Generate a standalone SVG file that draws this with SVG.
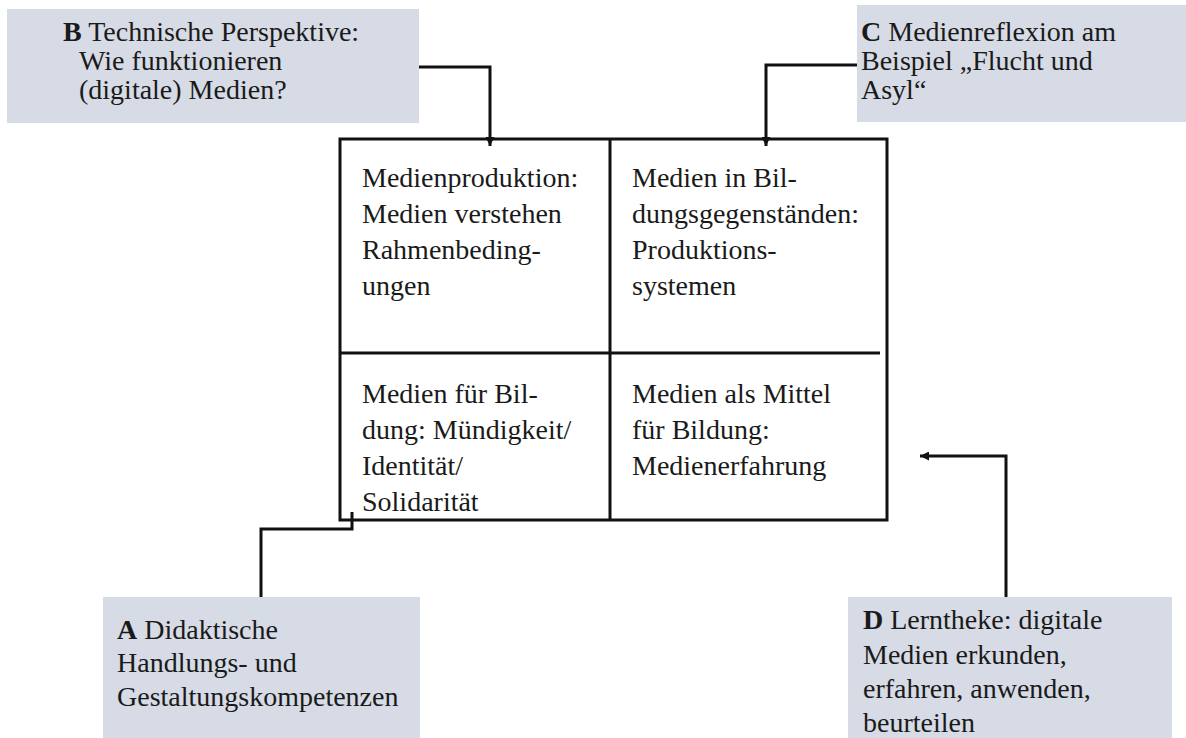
<svg xmlns="http://www.w3.org/2000/svg" width="1186" height="738" viewBox="0 0 1186 738">
<defs>
<style>
.t{font-family:"Liberation Serif","Times New Roman",serif;font-size:28px;fill:#1a1a1a}
.b{font-weight:bold}
.box{fill:#d6dbe5}
.ln{fill:none;stroke:#111;stroke-width:3}
.grid{fill:none;stroke:#111;stroke-width:3}
</style>
<marker id="ah" viewBox="0 0 10 10" refX="10" refY="5" markerWidth="10" markerHeight="9" markerUnits="userSpaceOnUse" orient="auto">
<path d="M0,0 L10,5 L0,10 z" fill="#111"/>
</marker>
</defs>
<rect width="1186" height="738" fill="#ffffff"/>

<g id="grid">
<rect class="grid" x="340" y="139" width="547" height="381"/>
<line class="grid" x1="610" y1="139" x2="610" y2="520"/>
<line class="grid" x1="340" y1="353" x2="880" y2="353"/>
<text class="t" x="362" y="187">Medienproduktion:</text>
<text class="t" x="362" y="223">Medien verstehen</text>
<text class="t" x="362" y="259">Rahmenbeding-</text>
<text class="t" x="362" y="295">ungen</text>
<text class="t" x="632" y="187">Medien in Bil-</text>
<text class="t" x="632" y="223">dungsgegenständen:</text>
<text class="t" x="632" y="259">Produktions-</text>
<text class="t" x="632" y="295">systemen</text>
<text class="t" x="362" y="403">Medien für Bil-</text>
<text class="t" x="362" y="439">dung: Mündigkeit/</text>
<text class="t" x="362" y="475">Identität/</text>
<text class="t" x="362" y="511">Solidarität</text>
<text class="t" x="632" y="403">Medien als Mittel</text>
<text class="t" x="632" y="439">für Bildung:</text>
<text class="t" x="632" y="475">Medienerfahrung</text>
</g>

<g id="nodeB">
<rect class="box" x="7" y="9" width="412" height="114"/>
<text class="t" x="63" y="41"><tspan class="b">B</tspan> Technische Perspektive:</text>
<text class="t" x="79" y="70">Wie funktionieren</text>
<text class="t" x="79" y="99">(digitale) Medien?</text>
</g>

<g id="nodeC">
<rect class="box" x="857" y="5" width="329" height="117"/>
<text class="t" x="861" y="41"><tspan class="b">C</tspan> Medienreflexion am</text>
<text class="t" x="861" y="70">Beispiel „Flucht und</text>
<text class="t" x="861" y="99">Asyl“</text>
</g>

<g id="nodeA">
<rect class="box" x="103" y="597" width="317" height="141"/>
<text class="t" x="117" y="639"><tspan class="b">A</tspan> Didaktische</text>
<text class="t" x="117" y="672">Handlungs- und</text>
<text class="t" x="117" y="706">Gestaltungskompetenzen</text>
</g>

<g id="nodeD">
<rect class="box" x="848" y="597" width="324" height="141"/>
<text class="t" x="863" y="629"><tspan class="b">D</tspan> Lerntheke: digitale</text>
<text class="t" x="863" y="664">Medien erkunden,</text>
<text class="t" x="863" y="698">erfahren, anwenden,</text>
<text class="t" x="863" y="732">beurteilen</text>
</g>

<g id="connectors">
<path class="ln" d="M419,67 H490 V146" marker-end="url(#ah)"/>
<path class="ln" d="M857,65 H766 V146" marker-end="url(#ah)"/>
<path class="ln" d="M261,597 V529 H352 V512"/>
<path class="ln" d="M1006,597 V456 H920" marker-end="url(#ah)"/>
</g>
</svg>
